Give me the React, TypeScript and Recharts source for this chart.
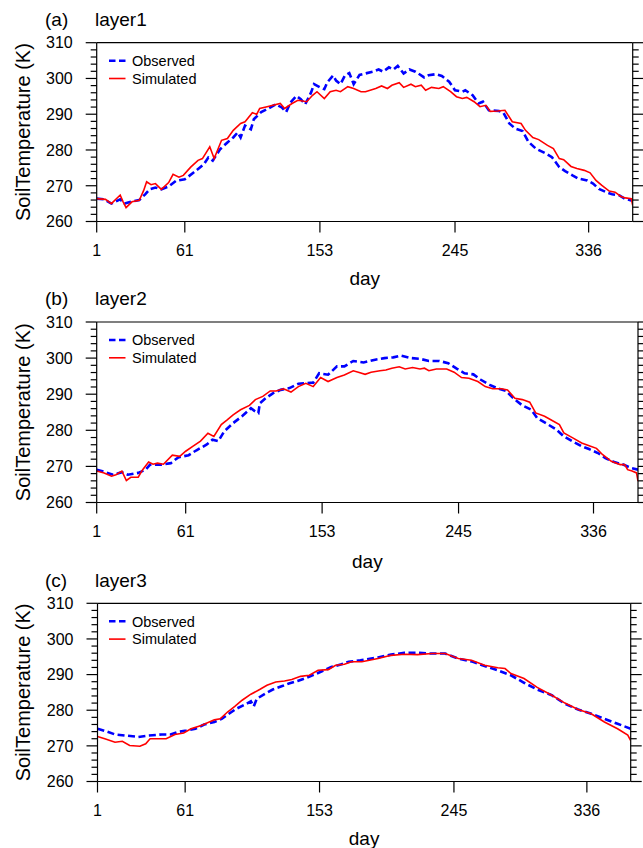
import React from 'react';
import { LineChart, Line, XAxis, YAxis } from 'recharts';

const FONT = '"Liberation Sans", Arial, Helvetica, sans-serif';

const DAY_TICKS = [1, 61, 153, 245, 336];
const TEMP_TICKS = [260, 262, 264, 266, 268, 270, 272, 274, 276, 278, 280, 282, 284, 286, 288, 290, 292, 294, 296, 298, 300, 302, 304, 306, 308, 310];
const SERIES_NAMES = ['Observed', 'Simulated'];
const PANEL_LETTERS = ['(a)', '(b)', '(c)'];
const PANEL_TITLES = ['layer1', 'layer2', 'layer3'];
const Y_LABEL = 'SoilTemperature (K)';
const X_LABEL = 'day';

// ---- layer 1 ----
const L1_OBS_DAYS = [1, 6, 11, 17, 20, 25, 30, 34, 37, 41, 45, 50, 55, 61, 67, 74, 77, 80, 85, 90, 94, 97, 99, 102, 106, 108, 113, 117, 123, 127, 130, 133, 137, 140, 143, 147, 149, 153, 156, 158, 162, 164, 167, 170, 173, 176, 180, 184, 189, 193, 196, 200, 203, 206, 210, 214, 218, 220, 224, 227, 232, 236, 241, 245, 250, 252, 257, 261, 264, 268, 275, 278, 282, 286, 291, 295, 300, 307, 311, 316, 320, 325, 329, 335, 339, 343, 348, 352, 357, 361, 365];
const L1_OBS_TEMP = [266.4, 266.2, 265.0, 266.2, 265.0, 265.6, 266.0, 267.6, 269.0, 269.5, 269.0, 269.8, 271.4, 271.8, 273.7, 276.0, 277.9, 277.0, 280.2, 282.1, 283.5, 284.9, 283.5, 286.8, 285.8, 288.6, 290.6, 291.4, 292.8, 291.9, 290.6, 293.3, 295.1, 294.2, 292.8, 296.1, 298.4, 297.5, 297.0, 298.9, 300.8, 299.4, 298.4, 300.8, 301.5, 298.4, 301.0, 301.4, 301.9, 302.5, 301.9, 303.1, 302.5, 303.5, 301.4, 302.5, 301.9, 301.4, 300.3, 300.9, 301.2, 300.7, 299.1, 296.7, 296.3, 296.7, 295.3, 293.0, 293.5, 291.1, 290.9, 290.4, 287.4, 286.0, 285.3, 282.3, 280.4, 279.0, 278.0, 275.2, 274.1, 272.9, 272.0, 271.5, 270.6, 269.1, 268.2, 267.6, 267.3, 266.3, 265.9];
const L1_SIM_DAYS = [1, 7, 11, 17, 19, 21, 25, 30, 33, 35, 38, 41, 45, 50, 53, 57, 60, 65, 70, 73, 78, 81, 86, 90, 94, 99, 102, 107, 110, 112, 117, 121, 126, 129, 134, 138, 144, 148, 151, 156, 160, 164, 167, 172, 176, 181, 184, 191, 195, 199, 202, 207, 210, 215, 218, 222, 225, 229, 234, 237, 242, 246, 250, 253, 258, 262, 266, 269, 274, 279, 284, 290, 293, 298, 302, 308, 312, 316, 319, 324, 328, 333, 337, 341, 345, 350, 354, 358, 361, 365, 366];
const L1_SIM_TEMP = [266.4, 266.2, 265.0, 267.4, 265.5, 263.9, 265.5, 265.9, 268.7, 271.1, 270.3, 270.6, 269.0, 270.9, 273.2, 272.4, 272.9, 275.2, 277.1, 277.6, 280.9, 277.6, 282.7, 283.2, 285.5, 287.4, 287.9, 290.4, 290.0, 291.6, 292.1, 292.5, 293.0, 291.6, 293.0, 293.9, 293.5, 295.3, 296.3, 294.4, 296.3, 296.7, 296.3, 297.7, 297.2, 296.3, 296.3, 297.2, 297.9, 297.2, 298.1, 298.8, 297.5, 298.4, 297.7, 298.1, 296.7, 297.5, 297.2, 297.7, 296.3, 294.9, 294.4, 294.7, 293.5, 292.1, 292.5, 290.8, 290.9, 291.1, 287.9, 287.4, 285.5, 283.5, 282.9, 281.3, 280.4, 277.6, 277.3, 275.4, 274.8, 274.3, 273.6, 271.5, 270.1, 268.5, 268.2, 267.0, 266.6, 266.4, 264.5];

// ---- layer 2 ----
const L2_OBS_DAYS = [1, 6, 12, 18, 22, 29, 34, 37, 45, 51, 56, 63, 68, 75, 79, 83, 87, 93, 99, 105, 108, 110, 111, 115, 120, 125, 131, 137, 142, 147, 151, 157, 163, 168, 174, 181, 188, 195, 201, 206, 213, 219, 225, 232, 238, 244, 249, 255, 260, 266, 272, 277, 283, 288, 294, 298, 305, 311, 316, 322, 328, 333, 339, 344, 350, 356, 361, 366];
const L2_OBS_TEMP = [269.1, 268.5, 267.7, 268.4, 267.7, 268.2, 269.1, 270.5, 270.5, 270.9, 272.5, 273.1, 274.4, 276.0, 277.4, 277.0, 279.7, 282.0, 283.9, 286.1, 285.2, 284.8, 287.5, 288.9, 290.3, 291.2, 291.7, 292.9, 293.1, 293.2, 295.8, 295.4, 297.7, 297.7, 299.2, 298.8, 299.5, 300.0, 300.2, 300.7, 300.0, 299.8, 299.2, 299.2, 298.6, 297.0, 295.8, 295.5, 294.0, 292.6, 291.5, 290.9, 288.5, 286.9, 285.7, 283.4, 281.7, 280.2, 278.3, 276.9, 275.6, 274.8, 273.7, 272.3, 271.2, 270.5, 269.6, 269.1];
const L2_SIM_DAYS = [1, 6, 11, 14, 18, 21, 24, 29, 32, 36, 39, 42, 46, 52, 57, 61, 66, 71, 76, 80, 85, 89, 93, 98, 104, 108, 113, 118, 122, 127, 132, 137, 142, 147, 152, 157, 163, 168, 174, 178, 182, 186, 192, 196, 200, 205, 209, 214, 219, 222, 225, 230, 237, 242, 247, 252, 258, 263, 268, 274, 278, 283, 288, 293, 297, 303, 309, 313, 316, 322, 328, 334, 338, 342, 348, 354, 357, 359, 362, 365, 366];
const L2_SIM_TEMP = [268.7, 268.2, 267.3, 267.7, 268.7, 266.1, 267.0, 267.0, 269.1, 271.2, 270.6, 270.9, 270.6, 273.1, 272.8, 274.2, 275.6, 277.0, 279.2, 278.3, 281.6, 282.9, 284.3, 285.7, 286.9, 288.5, 289.4, 290.9, 290.9, 291.5, 290.6, 292.1, 293.0, 292.1, 294.6, 293.5, 294.6, 295.3, 296.5, 296.0, 295.5, 296.1, 296.5, 296.7, 297.2, 297.6, 297.0, 297.4, 297.0, 297.2, 296.5, 297.0, 297.0, 296.1, 294.6, 294.4, 293.5, 292.1, 291.5, 291.5, 291.2, 288.9, 288.5, 287.8, 284.8, 283.9, 282.5, 281.6, 279.3, 277.9, 276.5, 275.6, 275.0, 273.3, 271.4, 270.5, 270.5, 269.1, 268.7, 268.2, 265.9];

// ---- layer 3 ----
const L3_OBS_DAYS = [1, 6, 13, 20, 29, 36, 45, 51, 56, 62, 68, 74, 81, 86, 91, 96, 102, 106, 108, 110, 116, 121, 127, 132, 138, 144, 150, 155, 161, 168, 173, 181, 193, 202, 211, 220, 230, 239, 248, 257, 266, 275, 284, 293, 302, 312, 321, 330, 339, 348, 357, 366];
const L3_OBS_TEMP = [274.8, 274.2, 273.2, 272.9, 272.5, 272.9, 273.2, 273.2, 273.9, 274.3, 274.8, 276.0, 276.7, 277.6, 279.0, 280.4, 281.6, 282.5, 281.1, 283.2, 284.7, 285.8, 286.7, 287.5, 288.2, 289.1, 290.1, 291.0, 292.1, 292.9, 293.6, 294.0, 294.8, 295.6, 296.1, 296.1, 295.9, 295.9, 294.5, 293.7, 292.4, 291.2, 289.8, 287.7, 285.8, 284.2, 281.8, 280.2, 279.0, 277.6, 276.2, 274.8];
const L3_SIM_DAYS = [1, 6, 13, 18, 23, 30, 34, 37, 42, 48, 54, 60, 65, 72, 81, 85, 90, 95, 100, 106, 112, 117, 123, 129, 134, 140, 146, 152, 159, 164, 170, 175, 182, 193, 202, 211, 220, 230, 239, 248, 257, 266, 275, 280, 284, 293, 302, 312, 321, 330, 339, 348, 357, 364, 366];
const L3_SIM_TEMP = [272.6, 272.0, 271.0, 271.3, 270.1, 269.9, 270.6, 272.0, 272.0, 272.0, 273.2, 273.6, 274.8, 275.7, 277.3, 277.6, 279.5, 281.1, 282.8, 284.5, 285.8, 287.0, 287.9, 288.2, 288.6, 289.5, 289.8, 291.2, 291.4, 292.6, 292.9, 293.6, 293.6, 294.5, 295.4, 295.7, 295.6, 295.9, 295.9, 294.5, 294.0, 292.6, 291.9, 291.7, 290.3, 288.9, 286.4, 284.2, 282.0, 280.2, 279.0, 276.7, 274.8, 273.0, 271.5];

const zip = (days: number[], temps: number[]) => days.map((d, i) => ({ day: d, t: temps[i] }));

const PANELS = [
  { obs: zip(L1_OBS_DAYS, L1_OBS_TEMP), sim: zip(L1_SIM_DAYS, L1_SIM_TEMP) },
  { obs: zip(L2_OBS_DAYS, L2_OBS_TEMP), sim: zip(L2_SIM_DAYS, L2_SIM_TEMP) },
  { obs: zip(L3_OBS_DAYS, L3_OBS_TEMP), sim: zip(L3_SIM_DAYS, L3_SIM_TEMP) },
];

// layout (page pixel geometry)
const LAYOUT = [
  { chartTop: 0, height: 290, left: 96.7, right: 632.7, top: 42.7, bottom: 221.5, titleY: 26, dayY: 285 },
  { chartTop: 290, height: 280, left: 96.7, right: 638, top: 322, bottom: 502.5, titleY: 305, dayY: 567.5 },
  { chartTop: 570, height: 278, left: 97.5, right: 630.7, top: 603.3, bottom: 781.5, titleY: 586.5, dayY: 845 },
];

const BLUE = '#0000FF';
const RED = '#FF0000';
const AXIS = { stroke: '#000', strokeWidth: 1.2 };

const LeftTick = (props: any) => {
  const { x, y, payload } = props;
  const major = payload.value % 10 === 0;
  return (
    <g>
      <line x1={x} x2={x - (major ? 11 : 6)} y1={y} y2={y} stroke="#000" strokeWidth={1.2} />
      {major && (
        <text x={x - 24} y={y} dy="0.36em" textAnchor="end" fontSize={16} fill="#000" fontFamily={FONT}>
          {payload.value}
        </text>
      )}
    </g>
  );
};

const RightTick = (props: any) => {
  const { x, y, payload } = props;
  const major = payload.value % 10 === 0;
  return <line x1={x} x2={x + (major ? 11 : 6)} y1={y} y2={y} stroke="#000" strokeWidth={1.2} />;
};

function Panel({ idx }: { idx: number }) {
  const L = LAYOUT[idx];
  const P = PANELS[idx];
  const W = 643;
  const topAxisH = 1;
  const botAxisH = 40;
  const rightAxisW = 1;
  const margin = {
    top: L.top - L.chartTop - topAxisH,
    left: 0,
    right: W - L.right - rightAxisW,
    bottom: L.chartTop + L.height - L.bottom - botAxisH,
  };
  return (
    <div style={{ position: 'absolute', left: 0, top: L.chartTop, width: W, height: L.height }}>
      <LineChart width={W} height={L.height} margin={margin}>
        <XAxis
          xAxisId="bottom"
          dataKey="day"
          type="number"
          domain={[1, 366]}
          ticks={DAY_TICKS}
          interval={0}
          allowDataOverflow
          height={botAxisH}
          tickSize={11}
          tickMargin={12.5}
          axisLine={AXIS}
          tickLine={AXIS}
          tick={{ fontSize: 16, fill: '#000', fontFamily: FONT }}
        />
        <XAxis
          xAxisId="top"
          orientation="top"
          dataKey="day"
          type="number"
          domain={[1, 366]}
          ticks={DAY_TICKS}
          interval={0}
          allowDataOverflow
          height={topAxisH}
          tickSize={11}
          axisLine={AXIS}
          tickLine={AXIS}
          tick={false}
        />
        <YAxis
          yAxisId="left"
          type="number"
          domain={[260, 310]}
          ticks={TEMP_TICKS}
          interval={0}
          allowDataOverflow
          width={L.left}
          tickSize={0}
          tickMargin={0}
          tickLine={false}
          axisLine={AXIS}
          tick={<LeftTick />}
        />
        <YAxis
          yAxisId="right"
          orientation="right"
          type="number"
          domain={[260, 310]}
          ticks={TEMP_TICKS}
          interval={0}
          allowDataOverflow
          width={rightAxisW}
          tickSize={0}
          tickMargin={0}
          tickLine={false}
          axisLine={AXIS}
          tick={<RightTick />}
        />
        <Line
          xAxisId="bottom"
          yAxisId="left"
          data={P.obs}
          dataKey="t"
          name={SERIES_NAMES[0]}
          type="linear"
          stroke={BLUE}
          strokeWidth={2.6}
          strokeDasharray="7 3.5"
          dot={false}
          activeDot={false}
          isAnimationActive={false}
        />
        <Line
          xAxisId="bottom"
          yAxisId="left"
          data={P.sim}
          dataKey="t"
          name={SERIES_NAMES[1]}
          type="linear"
          stroke={RED}
          strokeWidth={1.6}
          dot={false}
          activeDot={false}
          isAnimationActive={false}
        />
      </LineChart>
    </div>
  );
}

function Overlay() {
  return (
    <svg width={643} height={848} style={{ position: 'absolute', left: 0, top: 0, pointerEvents: 'none' }} fontFamily={FONT}>
      {LAYOUT.map((L, i) => {
        const cy = (L.top + L.bottom) / 2;
        const cx = (L.left + L.right) / 2;
        const r1 = L.top + 18;
        const r2 = L.top + 35.8;
        return (
          <g key={i}>
            <text x={45} y={L.titleY} fontSize={19} fill="#000">{PANEL_LETTERS[i]}</text>
            <text x={95} y={L.titleY} fontSize={19} fill="#000">{PANEL_TITLES[i]}</text>
            <text x={30} y={cy} fontSize={20} fill="#000" textAnchor="middle" transform={`rotate(-90, 30, ${cy})`}>{Y_LABEL}</text>
            <text x={cx} y={L.dayY} fontSize={19} fill="#000" textAnchor="middle">{X_LABEL}</text>
            <line x1={109} x2={125.5} y1={r1} y2={r1} stroke={BLUE} strokeWidth={2.6} strokeDasharray="6.5 3.5" />
            <text x={132} y={r1 + 5.2} fontSize={14.5} fill="#000">{SERIES_NAMES[0]}</text>
            <line x1={109} x2={125.5} y1={r2} y2={r2} stroke={RED} strokeWidth={1.6} />
            <text x={132} y={r2 + 5.2} fontSize={14.5} fill="#000">{SERIES_NAMES[1]}</text>
          </g>
        );
      })}
    </svg>
  );
}

export default function App() {
  return (
    <div style={{ position: 'absolute', left: 0, top: 0, width: 643, height: 848, background: '#fff', fontFamily: FONT }}>
      <Panel idx={0} />
      <Panel idx={1} />
      <Panel idx={2} />
      <Overlay />
    </div>
  );
}
